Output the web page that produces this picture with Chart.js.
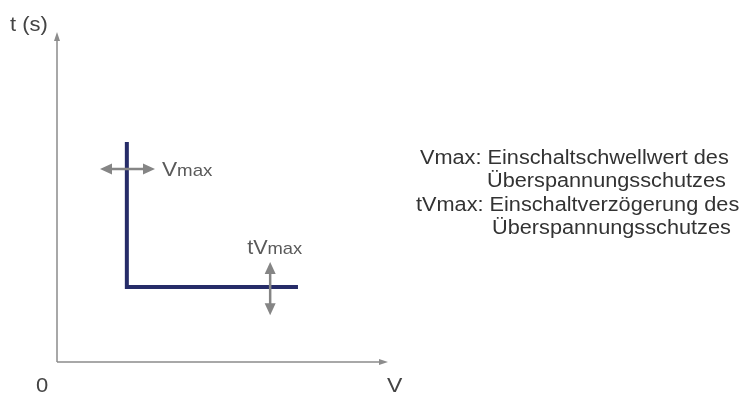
<!DOCTYPE html>
<html><head><meta charset="utf-8">
<script src="https://cdn.jsdelivr.net/npm/chart.js@4/dist/chart.umd.min.js"></script>
<style>html,body{margin:0;padding:0;background:#fff}#wrap{width:740px;height:396px}</style>
</head><body><div id="wrap"><canvas id="c" width="740" height="396"></canvas></div>
<script>
// data (arbitrary units on V and t axes, 0..100)
const curveV = [21.1, 21.1, 72.8];
const curveT = [66.7, 22.7, 22.7];
const vArrow = {v1: 13, v2: 29.6, t: 58.5};   // horizontal double arrow at Vmax
const tArrow = {v: 64.4, t1: 30.3, t2: 14.2}; // vertical double arrow at tVmax
const axisLabels = {y: 't (s)', x: 'V', origin: '0'};
const legendLines = [
  'Vmax: Einschaltschwellwert des',
  'Überspannungsschutzes',
  'tVmax: Einschaltverzögerung des',
  'Überspannungsschutzes'
];

const FONT = '"Liberation Sans", Arial, Helvetica, sans-serif';

function arrowHead(ctx, x, y, ang, len, wid, color) {
  ctx.save();
  ctx.translate(x, y); ctx.rotate(ang);
  ctx.fillStyle = color;
  ctx.beginPath();
  ctx.moveTo(0, 0); ctx.lineTo(-len, -wid/2); ctx.lineTo(-len, wid/2); ctx.closePath();
  ctx.fill();
  ctx.restore();
}
function wideText(ctx, txt, x, y, sx) {
  ctx.save(); ctx.translate(x, y); ctx.scale(sx, 1); ctx.fillText(txt, 0, 0);
  const w = ctx.measureText(txt).width * sx; ctx.restore(); return w;
}

const deco = {
  id: 'deco',
  beforeDatasetsDraw(chart) {
    const ctx = chart.ctx, xs = chart.scales.x, ys = chart.scales.y;
    const x0 = xs.getPixelForValue(0), y0 = ys.getPixelForValue(0);
    const xEnd = xs.getPixelForValue(100), yEnd = ys.getPixelForValue(100);
    ctx.save();
    ctx.strokeStyle = '#8c8c8c'; ctx.lineWidth = 1.5;
    ctx.beginPath();
    ctx.moveTo(x0, y0); ctx.lineTo(x0, yEnd + 7);
    ctx.moveTo(x0, y0); ctx.lineTo(xEnd - 7, y0);
    ctx.stroke();
    arrowHead(ctx, x0, yEnd, -Math.PI/2, 9, 6, '#8c8c8c');
    arrowHead(ctx, xEnd, y0, 0, 9, 6, '#8c8c8c');
    ctx.restore();
  },
  afterDatasetsDraw(chart) {
    const ctx = chart.ctx, xs = chart.scales.x, ys = chart.scales.y;
    const gray = '#858585';
    ctx.save();
    // horizontal double arrow
    const hx1 = xs.getPixelForValue(vArrow.v1), hx2 = xs.getPixelForValue(vArrow.v2), hy = ys.getPixelForValue(vArrow.t);
    ctx.strokeStyle = gray; ctx.lineWidth = 2.5;
    ctx.beginPath(); ctx.moveTo(hx1 + 8, hy); ctx.lineTo(hx2 - 8, hy); ctx.stroke();
    arrowHead(ctx, hx1, hy, Math.PI, 12, 11, gray);
    arrowHead(ctx, hx2, hy, 0, 12, 11, gray);
    // vertical double arrow
    const vx = xs.getPixelForValue(tArrow.v), vy1 = ys.getPixelForValue(tArrow.t1), vy2 = ys.getPixelForValue(tArrow.t2);
    ctx.beginPath(); ctx.moveTo(vx, vy1 + 8); ctx.lineTo(vx, vy2 - 8); ctx.stroke();
    arrowHead(ctx, vx, vy1, -Math.PI/2, 12, 11, gray);
    arrowHead(ctx, vx, vy2, Math.PI/2, 12, 11, gray);

    // labels
    ctx.fillStyle = '#5a5a5a';
    ctx.textBaseline = 'alphabetic';
    // Vmax label
    let lx = hx2 + 7, ly = hy + 7;
    ctx.font = '21px ' + FONT; let w = wideText(ctx, 'V', lx, ly, 1.08);
    ctx.font = '17px ' + FONT; wideText(ctx, 'max', lx + w, ly, 1.1);
    // tVmax label
    lx = vx - 23; ly = vy1 - 8;
    ctx.font = '20px ' + FONT; w = wideText(ctx, 'tV', lx, ly, 1.08);
    ctx.font = '17px ' + FONT; wideText(ctx, 'max', lx + w, ly, 1.08);

    // axis labels
    ctx.fillStyle = '#444';
    ctx.font = '20px ' + FONT;
    wideText(ctx, axisLabels.y, 10, 31, 1.1);
    wideText(ctx, axisLabels.origin, 36, 392, 1.1);
    wideText(ctx, axisLabels.x, xs.getPixelForValue(100) - 1, 392, 1.15);

    // legend text
    ctx.fillStyle = '#333';
    ctx.font = '20px ' + FONT;
    const lineX = [420, 487, 416, 492];
    legendLines.forEach((txt, i) => {
      wideText(ctx, txt, lineX[i], 164 + i * 23.3, 1.085);
    });
    ctx.restore();
  }
};

new Chart(document.getElementById('c'), {
  type: 'line',
  data: {
    datasets: [{
      data: curveV.map((v, i) => ({x: v, y: curveT[i]})),
      borderColor: '#262c68',
      borderWidth: 4,
      pointRadius: 0,
      tension: 0,
      borderJoinStyle: 'miter',
      fill: false
    }]
  },
  options: {
    responsive: false,
    animation: false,
    events: [],
    layout: {padding: {left: 57, right: 352, top: 32, bottom: 34}},
    plugins: {legend: {display: false}, tooltip: {enabled: false}},
    scales: {
      x: {type: 'linear', min: 0, max: 100, display: false},
      y: {type: 'linear', min: 0, max: 100, display: false}
    }
  },
  plugins: [deco]
});
</script></body></html>
